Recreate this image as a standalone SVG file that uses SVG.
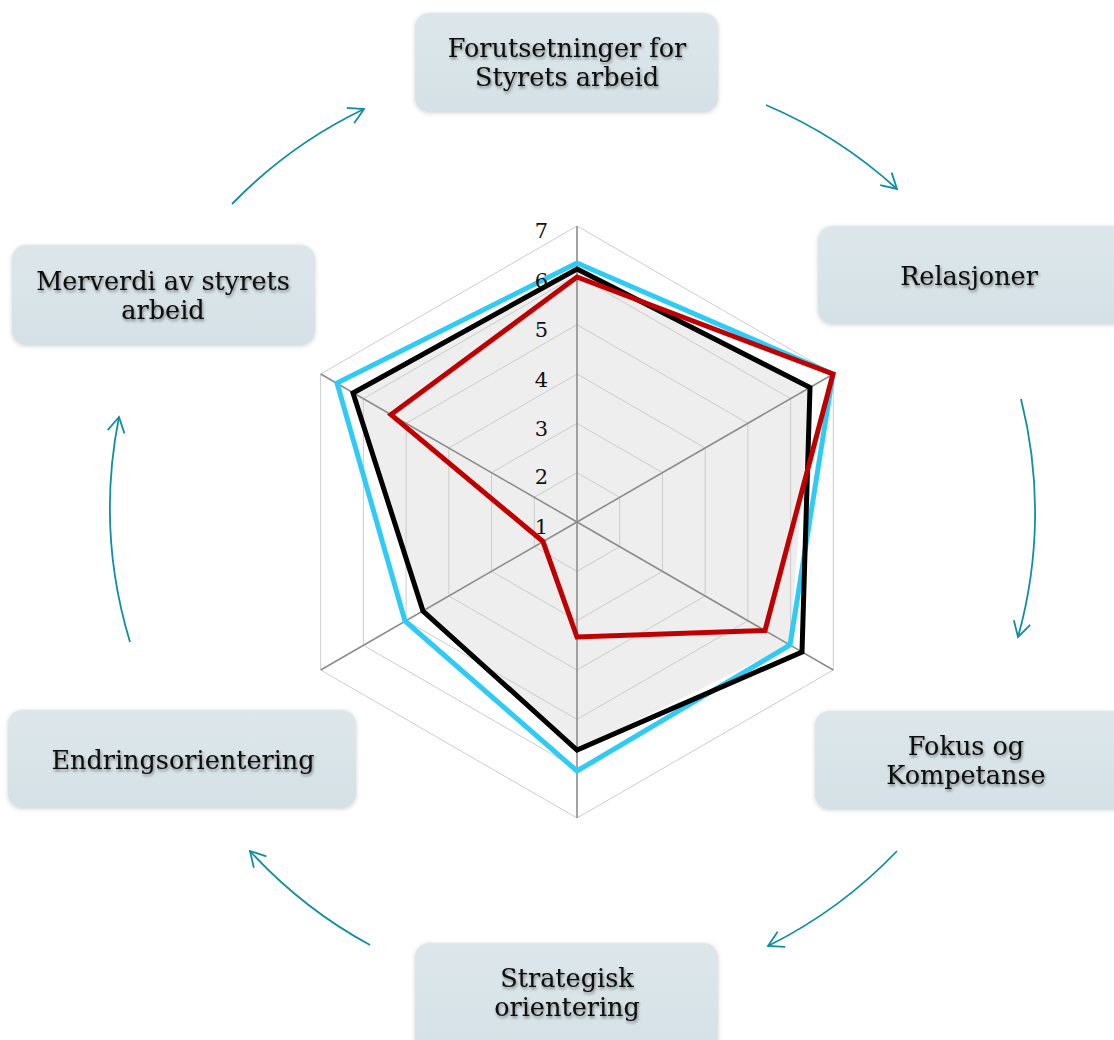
<svg xmlns="http://www.w3.org/2000/svg" width="1114" height="1040" viewBox="0 0 1114 1040">
<defs>
<linearGradient id="boxg" x1="0" y1="0" x2="0" y2="1">
<stop offset="0" stop-color="#dde7eb"/>
<stop offset="1" stop-color="#d5e1e6"/>
</linearGradient>
<filter id="boxsh" x="-10%" y="-20%" width="120%" height="140%">
<feDropShadow dx="0" dy="1" stdDeviation="2" flood-color="#000" flood-opacity="0.18"/>
</filter>
<filter id="txtsh" x="-10%" y="-30%" width="120%" height="160%">
<feDropShadow dx="1" dy="2" stdDeviation="1.6" flood-color="#000" flood-opacity="0.45"/>
</filter>
<marker id="arr" viewBox="-17 -10 19 20" markerWidth="19" markerHeight="20" refX="0" refY="0" orient="auto" markerUnits="userSpaceOnUse">
<path d="M-15,-8.5 L0,0 L-15,8.5" fill="none" stroke="#118ea2" stroke-width="1.8"/>
</marker>
</defs>
<style>
.box{fill:url(#boxg);filter:url(#boxsh);}
.lbl{font-family:"DejaVu Serif","Liberation Serif",serif;font-size:25.5px;fill:#0a0a0a;text-anchor:middle;filter:url(#txtsh);}
.grid{fill:none;stroke:#cccccc;stroke-width:1;}
.axis{stroke:#8c8c8c;stroke-width:1.6;}
.ser{fill:none;stroke-width:5;stroke-linejoin:miter;}
.tick{font-family:"DejaVu Serif","Liberation Serif",serif;font-size:21px;fill:#111;text-anchor:end;}
.conn{fill:none;stroke:#118ea2;stroke-width:1.8;marker-end:url(#arr);}
</style>
<rect width="1114" height="1040" fill="#ffffff"/>

<g id="radar">
<polygon points="577,269 810,387.5 790,645 577,750 423,611 353,393" fill="#eeeeee"/>
<polygon class="grid" points="577,226 833.3,374 833.3,670 577,818 320.7,670 320.7,374"/>
<polygon class="grid" points="577,275.33 790.62,398.67 790.62,645.33 577,768.67 363.38,645.33 363.38,398.67"/>
<polygon class="grid" points="577,324.67 747.9,423.33 747.9,620.67 577,719.33 406.1,620.67 406.1,423.33"/>
<polygon class="grid" points="577,374 705.17,448 705.17,596 577,670 448.83,596 448.83,448"/>
<polygon class="grid" points="577,423.33 662.45,472.67 662.45,571.33 577,620.67 491.55,571.33 491.55,472.67"/>
<polygon class="grid" points="577,472.67 619.72,497.33 619.72,546.67 577,571.33 534.28,546.67 534.28,497.33"/>
<g class="axis">
<line x1="577" y1="522" x2="577" y2="226"/>
<line x1="577" y1="522" x2="833.3" y2="374"/>
<line x1="577" y1="522" x2="833.3" y2="670"/>
<line x1="577" y1="522" x2="577" y2="818"/>
<line x1="577" y1="522" x2="320.7" y2="670"/>
<line x1="577" y1="522" x2="320.7" y2="374"/>
</g>
<polygon class="ser" stroke="#2ecbf7" points="577,263 833,374 790,645 577,771 405,621 337,383"/>
<polygon class="ser" stroke="#000000" points="577,269 810,387.5 802,652 577,750 423,611 353,393"/>
<polygon class="ser" stroke="#c00000" points="577,277 833,374 765,630.5 577,637 543,541.6 391,414.6"/>
<text class="tick" x="548" y="238">7</text>
<text class="tick" x="548" y="288">6</text>
<text class="tick" x="548" y="337">5</text>
<text class="tick" x="548" y="387">4</text>
<text class="tick" x="548" y="436">3</text>
<text class="tick" x="548" y="484">2</text>
<text class="tick" x="548" y="534">1</text>
</g>

<g id="connectors">
<path class="conn" d="M766,105 A463,463 0 0 1 897,189"/>
<path class="conn" d="M1021,399 A463,463 0 0 1 1018,637"/>
<path class="conn" d="M897,851 A463,463 0 0 1 768,946"/>
<path class="conn" d="M370,945 A463,463 0 0 1 250,851"/>
<path class="conn" d="M130,642 A463,463 0 0 1 119,417"/>
<path class="conn" d="M232,204 A463,463 0 0 1 364,109"/>
</g>

<g id="node-forutsetninger">
<rect class="box" x="415" y="13" width="303" height="99" rx="14"/>
<text class="lbl" x="567" y="57">Forutsetninger for</text>
<text class="lbl" x="567" y="86">Styrets arbeid</text>
</g>
<g id="node-relasjoner">
<rect class="box" x="818" y="226" width="310" height="98" rx="14"/>
<text class="lbl" x="969" y="285">Relasjoner</text>
</g>
<g id="node-fokus">
<rect class="box" x="815" y="711" width="313" height="98" rx="14"/>
<text class="lbl" x="966" y="755">Fokus og</text>
<text class="lbl" x="966" y="784">Kompetanse</text>
</g>
<g id="node-strategisk">
<rect class="box" x="415" y="943" width="303" height="110" rx="14"/>
<text class="lbl" x="567" y="987">Strategisk</text>
<text class="lbl" x="567" y="1016">orientering</text>
</g>
<g id="node-endring">
<rect class="box" x="8" y="710" width="348" height="98" rx="14"/>
<text class="lbl" x="183" y="769">Endringsorientering</text>
</g>
<g id="node-merverdi">
<rect class="box" x="12" y="245" width="303" height="100" rx="14"/>
<text class="lbl" x="163" y="290">Merverdi av styrets</text>
<text class="lbl" x="163" y="319">arbeid</text>
</g>
</svg>
